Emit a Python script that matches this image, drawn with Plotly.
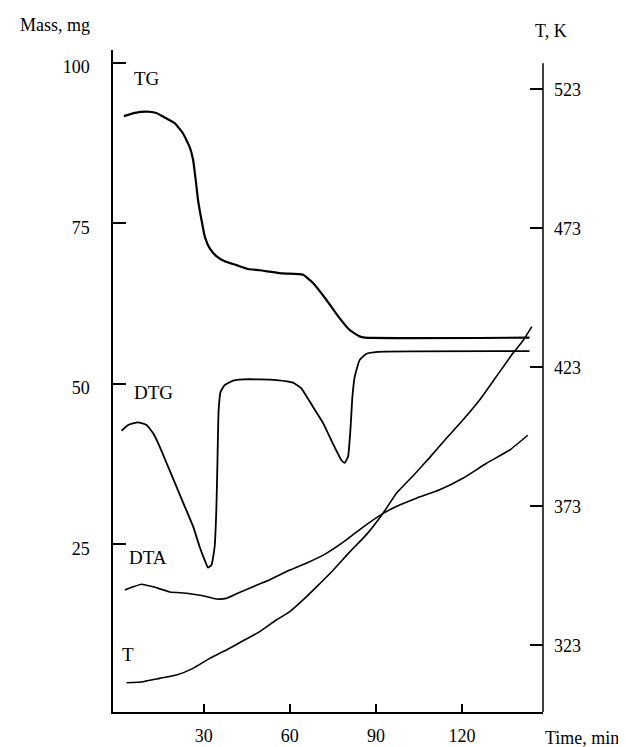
import plotly.graph_objects as go

# ---------------- data ----------------
tg_time = [2.2, 6.0, 10.1, 13.5, 16.4, 19.9, 22.8, 25.1, 26.3, 27.2, 28.0, 29.2, 30.4, 32.1,
           34.4, 37.3, 41.4, 45.4, 49.5, 57.5, 64.6, 68.1, 72.7, 77.4, 80.8, 84.3, 86.1, 143.5]
tg_mass = [91.7, 92.2, 92.4, 92.2, 91.5, 90.6, 89.0, 86.9, 84.9, 81.8, 78.7, 75.6, 72.9, 71.1,
           69.9, 69.1, 68.5, 67.9, 67.7, 67.2, 67.0, 65.7, 63.1, 60.2, 58.4, 57.4, 57.2, 57.2]

dtg_time = [1.4, 3.7, 7.1, 10.1, 12.4, 14.7, 17.6, 20.5, 23.4, 26.3, 28.6, 30.3, 31.5, 32.7,
            33.8, 34.4, 34.8, 35.2, 35.9, 37.3, 40.2, 43.7, 49.5, 55.3, 61.1, 64.0, 68.1, 71.6,
            75.0, 78.0, 79.1, 80.3, 81.1, 81.8, 82.6, 84.3, 86.7, 90.7, 143.5]
dtg_value = [42.7, 43.6, 44.0, 43.6, 42.3, 40.2, 37.1, 34.0, 30.9, 27.8, 24.6, 22.6, 21.4, 21.8,
             24.6, 30.4, 38.1, 45.9, 48.8, 49.8, 50.5, 50.7, 50.7, 50.6, 50.2, 49.3, 46.4, 43.9,
             40.7, 38.1, 37.7, 38.7, 42.8, 48.0, 51.1, 53.7, 54.7, 55.0, 55.1]

dta_time = [2.5, 5.4, 8.3, 12.4, 18.2, 24.0, 29.8, 34.4, 37.9, 41.4, 47.2, 53.0, 60.0, 66.9,
            72.7, 79.7, 85.5, 92.4, 97.1, 104.1, 112.2, 120.3, 128.4, 136.6, 142.9]
dta_value = [17.9, 18.4, 18.8, 18.4, 17.6, 17.4, 17.0, 16.5, 16.6, 17.3, 18.4, 19.5, 21.0, 22.3,
             23.6, 25.7, 27.7, 29.8, 30.9, 32.2, 33.5, 35.3, 37.6, 39.7, 42.0]

temp_time = [3.1, 8.9, 14.7, 20.5, 26.3, 32.1, 37.9, 43.7, 49.5, 55.3, 60.0, 64.6, 69.3, 75.0,
             80.8, 86.7, 92.4, 97.1, 102.9, 108.7, 114.5, 120.3, 126.1, 131.9, 137.7, 141.4, 144.3]
temp_K = [309.5, 309.9, 311.1, 312.3, 314.7, 318.3, 321.3, 324.6, 327.9, 332.1, 335.1, 339.3,
          344.0, 349.9, 356.5, 362.8, 370.4, 377.6, 383.9, 390.5, 397.4, 404.0, 411.2, 419.6,
          428.0, 432.8, 437.6]

time_ticks = [30, 60, 90, 120]
mass_ticks = [25, 50, 75, 100]
temp_ticks = [323, 373, 423, 473, 523]

curve_labels = ["TG", "DTG", "DTA", "T"]
label_time = [10.2, 12.6, 10.5, 3.5]
label_mass = [97.6, 48.6, 23.0, 7.9]

# ---------------- figure ----------------
FONT = "Liberation Serif, Times New Roman, serif"
fig = go.Figure()

line_style = dict(color="black", shape="spline", smoothing=0.4)
fig.add_trace(go.Scatter(x=tg_time, y=tg_mass, mode="lines", line=dict(width=2.2, **line_style),
                         name="TG", yaxis="y"))
fig.add_trace(go.Scatter(x=dtg_time, y=dtg_value, mode="lines", line=dict(width=1.8, **line_style),
                         name="DTG", yaxis="y"))
fig.add_trace(go.Scatter(x=dta_time, y=dta_value, mode="lines", line=dict(width=1.6, **line_style),
                         name="DTA", yaxis="y"))
fig.add_trace(go.Scatter(x=temp_time, y=temp_K, mode="lines", line=dict(width=1.6, **line_style),
                         name="T", yaxis="y2"))

for txt, tx, ty in zip(curve_labels, label_time, label_mass):
    fig.add_annotation(x=tx, y=ty, xref="x", yref="y", text=txt, showarrow=False,
                       font=dict(family=FONT, size=19, color="black"),
                       xanchor="center", yanchor="middle")

title_font = dict(family=FONT, size=18, color="black")
fig.add_annotation(x=-0.1356, y=1.0378, xref="paper", yref="paper", text="Mass, mg",
                   showarrow=False, font=title_font, xanchor="center", yanchor="middle")
fig.add_annotation(x=1.018, y=1.0287, xref="paper", yref="paper", text="T, K",
                   showarrow=False, font=title_font, xanchor="center", yanchor="middle")
fig.add_annotation(x=1.09, y=-0.039, xref="paper", yref="paper", text="Time, min",
                   showarrow=False, font=title_font, xanchor="center", yanchor="middle")

# right-hand axis line starts a little below the top of the plot area
fig.add_shape(type="line", xref="paper", yref="paper", x0=1, x1=1, y0=0, y1=0.98,
              line=dict(color="black", width=1.5))

axis_common = dict(showgrid=False, zeroline=False, linecolor="black",
                   linewidth=1.5, ticks="inside", tickcolor="black", tickwidth=1.5,
                   automargin=False,
                   tickfont=dict(family=FONT, size=18, color="black"))

# the page body adds an 8 px offset, so the figure is 8 px smaller than the window
fig.update_layout(
    width=618, height=739,
    margin=dict(l=105, r=83, t=42, b=35, autoexpand=False),
    paper_bgcolor="white", plot_bgcolor="white",
    showlegend=False,
    xaxis=dict(range=[-1.6, 148.2], tickvals=time_ticks, ticklen=8, showline=True,
               ticklabelstandoff=7, **axis_common),
    yaxis=dict(range=[-1.1, 102.0], tickvals=mass_ticks, ticklen=13, showline=True,
               ticklabelstandoff=18, ticklabelshift=4, **axis_common),
    yaxis2=dict(range=[299.0, 537.1], tickvals=temp_ticks, ticklen=13, side="right",
                showline=False, overlaying="y", ticklabelstandoff=10, ticklabelshift=0,
                **axis_common),
)

fig.write_html("out.html")
